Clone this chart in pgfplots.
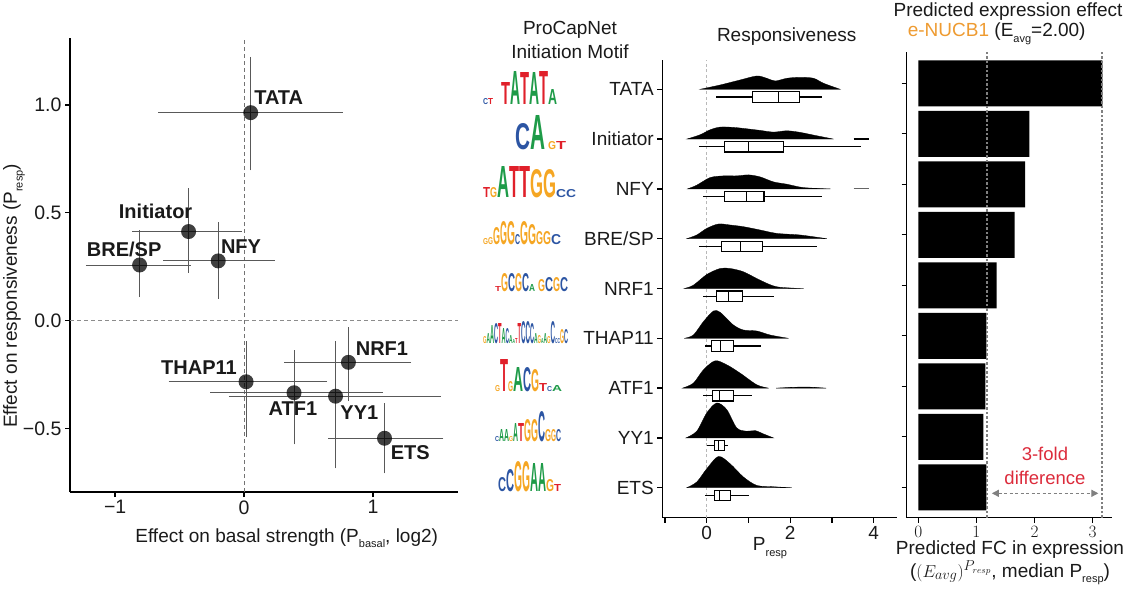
\documentclass[border=0pt]{standalone}
\usepackage{graphicx}
\usepackage{pgfplots}
\usepackage{pgfplotstable}
\pgfplotsset{compat=1.18}
\usepgfplotslibrary{statistics}
\usetikzlibrary{arrows.meta}
\usepackage{fontspec}
\setmainfont{Liberation Sans}

\definecolor{lgA}{HTML}{1E9B48}
\definecolor{lgC}{HTML}{2C55A3}
\definecolor{lgG}{HTML}{F5A623}
\definecolor{lgT}{HTML}{E0202A}
\definecolor{nucb}{HTML}{EE9B31}
\definecolor{foldred}{HTML}{DC2B3B}
\definecolor{txt}{HTML}{1A1A1A}

\newcommand{\Lt}[3]{\textcolor{lg#1}{\resizebox{#3pt}{#2pt}{\bfseries #1}}}
\newcommand{\Sp}[1]{\hspace*{#1pt}}
\newcommand{\sub}[1]{\raisebox{-0.55ex}{\fontsize{11}{12}\selectfont #1}}
\newcommand{\fs}[1]{\fontsize{#1}{#1}\selectfont}

\pgfplotstableread{
name x y xp xm yp ym
TATA 0.052 0.964 0.698 0.702 0.248 0.257
Initiator -0.43 0.413 0.397 0.42 0.19 0.181
BRE/SP -0.81 0.258 0.38 0.40 0.152 0.139
NFY -0.2 0.277 0.42 0.41 0.17 0.166
NRF1 0.81 -0.193 0.47 0.48 0.153 0.17
THAP11 0.016 -0.283 0.612 0.584 0.178 0.247
ATF1 0.388 -0.334 0.672 0.634 0.186 0.229
YY1 0.71 -0.35 0.80 0.81 0.245 0.324
ETS 1.09 -0.545 0.44 0.42 0.153 0.152
}\scatterdata

\pgfplotsset{
  panel/.style={
    scale only axis, anchor=south west, clip=false,
    axis lines=left, axis line style={-, line width=1.5pt, black},
    tick align=outside, major tick length=5pt,
    tick style={line width=1.3pt, black},
    ticklabel style={font=\fs{19}, text=txt},
  },
  dens/.style={fill=black, draw=black, line width=0.3pt, smooth, tension=0.5},
  bx/.style={draw=black, fill=white, line width=1.2pt, solid},
}

\begin{document}
\begin{tikzpicture}[x=1pt,y=1pt]
\path[use as bounding box] (0,0) rectangle (1123,590);

% ---------------- left scatter panel ----------------
\begin{axis}[panel,
  at={(70pt,98pt)}, width=388pt, height=454pt,
  xmin=-1.35, xmax=1.66, ymin=-0.794, ymax=1.31,
  xtick={-1,0,1}, xticklabels={−1,0,1},
  ytick={-0.5,0,0.5,1}, yticklabels={−0.5,0.0,0.5,1.0},
  ticklabel style={font=\fs{19.5}},
]
\addplot[black!55, line width=0.9pt, dash pattern=on 4pt off 3pt] coordinates {(0,-0.794) (0,1.31)};
\addplot[black!45, line width=0.9pt, dash pattern=on 4pt off 3pt] coordinates {(-1.35,0) (1.66,0)};
\addplot[only marks, mark=*, mark size=7.5pt,
  mark options={fill=black, fill opacity=0.75, draw opacity=0},
  error bars/.cd, x dir=both, x explicit, y dir=both, y explicit,
  error mark=-,
  error bar style={line width=0.9pt, black!65, draw opacity=1},
  error mark options={line width=0.9pt, black!65, mark size=2.2pt, draw opacity=1, fill opacity=1}]
  table[x=x, y=y, x error plus=xp, x error minus=xm, y error plus=yp, y error minus=ym] {\scatterdata};
\begin{scope}[every node/.style={font=\bfseries\fs{20}, text=txt, inner sep=0pt}]
\node[anchor=west] at (axis cs:0.078,1.032) {TATA};
\node at (axis cs:-0.686,0.505) {Initiator};
\node at (axis cs:-0.93,0.328) {BRE/SP};
\node at (axis cs:-0.023,0.342) {NFY};
\node at (axis cs:1.07,-0.131) {NRF1};
\node at (axis cs:-0.349,-0.219) {THAP11};
\node at (axis cs:0.38,-0.409) {ATF1};
\node at (axis cs:0.895,-0.428) {YY1};
\node at (axis cs:1.29,-0.612) {ETS};
\end{scope}
\end{axis}
\node[rotate=90, font=\fs{19}, text=txt] at (14,294) {Effect on responsiveness (P\sub{resp})};
\node[font=\fs{19}, text=txt] at (286.7,52) {Effect on basal strength (P\sub{basal}, log2)};

% ---------------- motif logos ----------------
\begin{scope}[every node/.style={anchor=base west, inner sep=0pt}]
\node at (483,485) {\Lt{C}{6}{5}\Lt{T}{6}{5}\Sp{8}\Lt{T}{22}{9}\Lt{A}{33}{10}\Lt{T}{32}{9}\Lt{A}{32}{10}\Lt{T}{33}{9}\Lt{A}{15}{9}};
\node at (483,440.7) {\Sp{32}\Lt{C}{26}{15}\Lt{A}{34}{15}\Sp{3}\Lt{G}{8}{8}\Lt{T}{8}{10}};
\node at (483,392.7) {\Lt{T}{10}{7}\Lt{G}{10}{7}\Lt{A}{31}{12}\Lt{T}{31}{10}\Lt{T}{31}{11}\Lt{G}{28}{13}\Lt{G}{28}{13}\Lt{C}{8}{10}\Lt{C}{8}{10}};
\node at (483,346) {\Lt{G}{6}{5}\Lt{G}{7}{5}\Lt{G}{17}{7}\Lt{G}{23}{7}\Lt{G}{23}{8}\Lt{C}{10}{5}\Lt{G}{23}{8}\Lt{G}{20}{8}\Lt{G}{13}{7}\Lt{G}{13}{8}\Lt{C}{10}{10}};
\node at (483,299) {\Sp{12}\Lt{T}{5}{6}\Lt{G}{18}{7}\Lt{C}{18}{7}\Lt{G}{18}{7}\Lt{C}{18}{7}\Lt{A}{7}{6}\Sp{3}\Lt{G}{12}{7}\Lt{C}{14}{8}\Lt{G}{14}{7}\Lt{C}{14}{8}};
\node at (483,246.7) {\Lt{G}{7}{3.5}\Lt{A}{10}{3.5}\Lt{A}{18}{4}\Lt{C}{20}{4}\Lt{T}{20}{3.5}\Lt{A}{15}{4}\Lt{C}{15}{3.5}\Lt{A}{8}{3.5}\Lt{A}{4}{2.5}\Lt{T}{5}{2.5}\Lt{T}{20}{3.5}\Lt{C}{22}{4.5}\Lt{C}{22}{4.5}\Lt{C}{20}{4}\Lt{A}{10}{3.5}\Lt{G}{8}{3.5}\Lt{A}{5}{2.5}\Lt{A}{10}{3.5}\Lt{G}{7}{3.5}\Lt{C}{22}{4.5}\Lt{C}{5}{2.5}\Lt{C}{5}{2.5}\Lt{G}{14}{4}\Lt{C}{14}{4}};
\node at (483,198.3) {\Sp{12}\Lt{G}{6}{5}\Lt{T}{32}{8}\Lt{G}{10}{5}\Lt{A}{24}{10}\Lt{C}{24}{8}\Lt{G}{22}{8}\Lt{T}{8}{8}\Lt{C}{5}{5}\Lt{A}{6}{10}};
\node at (483,148.3) {\Sp{12}\Lt{C}{5}{4}\Lt{A}{12}{5}\Lt{A}{12}{5}\Lt{G}{5}{4}\Lt{A}{18}{5}\Lt{T}{18}{6}\Lt{G}{22}{7}\Lt{G}{22}{7}\Lt{C}{30}{7}\Lt{G}{12}{6}\Lt{G}{12}{5}\Lt{C}{12}{5}};
\node at (483,98.3) {\Sp{15}\Lt{C}{14}{8}\Lt{C}{22}{8}\Lt{G}{30}{8}\Lt{G}{30}{8}\Lt{A}{28}{8}\Lt{A}{28}{8}\Lt{G}{12}{8}\Lt{T}{7}{7}};
\end{scope}
\node[font=\fs{19}, text=txt] at (570,560) {ProCapNet};
\node[font=\fs{19}, text=txt] at (570,538.3) {Initiation Motif};

% ---------------- middle responsiveness panel ----------------
\begin{axis}[panel,
  at={(662.3pt,72.3pt)}, width=234.7pt, height=457.7pt,
  xmin=-1.065, xmax=4.56, ymin=0.398, ymax=9.588,
  xtick={-1,0,1,2,3,4}, xticklabels={,0,,2,,4},
  ytick={1,2,3,4,5,6,7,8,9},
  yticklabels={ETS,YY1,ATF1,THAP11,NRF1,BRE/SP,NFY,Initiator,TATA},
  boxplot/draw direction=x,
]
\addplot[black!28, line width=1.5pt, dash pattern=on 3pt off 2.5pt] coordinates {(0,0.398) (0,9.588)};
% densities (x, height in px)
\addplot[dens] table[y expr=9+\thisrow{h}/49.8] {
x h
-0.16 0
0.32 4.3
0.8 9.3
1.2 13.3
1.44 11
1.64 8.3
1.92 11
2.24 12
2.56 11
2.8 6
3.2 0
} -- cycle;
\addplot[dens] table[y expr=8+\thisrow{h}/49.8] {
x h
-0.48 0
-0.16 4.3
0.08 9.3
0.32 12
0.64 11.7
0.96 10.3
1.28 8.7
1.6 7
1.92 8.3
2.24 6.7
2.64 3.3
3.04 0
} -- cycle;
\addplot[black, line width=1.2pt] coordinates {(3.52,8) (3.88,8)};
\addplot[dens] table[y expr=7+\thisrow{h}/49.8] {
x h
-0.46 0
-0.24 3.7
0.08 11.3
0.4 13
0.72 13
1.0 14
1.28 12
1.6 7
1.92 4.7
2.32 1.3
2.96 0
} -- cycle;
\addplot[black!60, line width=1.2pt] coordinates {(3.52,7) (3.88,7)};
\addplot[dens] table[y expr=6+\thisrow{h}/49.8] {
x h
-0.48 0
-0.24 3.7
0 10.3
0.28 14.7
0.56 13.7
0.88 12
1.28 8.7
1.68 5.3
2.24 3.7
2.88 0
} -- cycle;
\addplot[dens] table[y expr=5+\thisrow{h}/49.8] {
x h
-0.54 0
-0.32 3.3
0 14
0.32 20
0.56 20
0.88 16.7
1.28 8.3
1.68 1.7
2.32 0
} -- cycle;
\addplot[dens] table[y expr=4+\thisrow{h}/49.8] {
x h
-0.54 0
-0.32 3.3
-0.08 16.7
0.16 27.3
0.32 26
0.64 13.3
0.88 8.3
1.2 7.3
1.52 3.3
1.96 0
} -- cycle;
\addplot[dens] table[y expr=3+\thisrow{h}/49.8] {
x h
-0.58 0
-0.32 5
-0.08 18.3
0.2 27.3
0.48 23.3
0.8 15
1.2 3.3
1.48 0
} -- cycle;
\addplot[dens] table[y expr=3+\thisrow{h}/49.8] {
x h
1.66 0
2.0 0.7
2.4 1.1
2.86 0
} -- cycle;
\addplot[dens] table[y expr=2+\thisrow{h}/49.8] {
x h
-0.5 0
-0.24 6.7
0 25
0.24 35
0.48 28.3
0.72 10
0.96 6.7
1.16 7.3
1.36 4
1.6 0
} -- cycle;
\addplot[dens] table[y expr=1+\thisrow{h}/49.8] {
x h
-0.48 0
-0.24 5.7
0 19
0.28 31.3
0.56 24
0.88 10.7
1.2 2.3
1.6 1.0
2.04 0
} -- cycle;
% box plots
\pgfplotsset{boxplot/box extend=0.21, boxplot/whisker extend=0}
\addplot[bx, boxplot prepared={draw position=8.845, lower whisker=0.22, lower quartile=1.09, median=1.72, upper quartile=2.22, upper whisker=2.77}] coordinates {};
\addplot[bx, boxplot prepared={draw position=7.845, lower whisker=-0.19, lower quartile=0.43, median=1.01, upper quartile=1.84, upper whisker=3.69}] coordinates {};
\addplot[bx, boxplot prepared={draw position=6.845, lower whisker=-0.1, lower quartile=0.42, median=0.96, upper quartile=1.37, upper whisker=2.77}] coordinates {};
\addplot[bx, boxplot prepared={draw position=5.845, lower whisker=-0.18, lower quartile=0.36, median=0.8, upper quartile=1.33, upper whisker=2.64}] coordinates {};
\addplot[bx, boxplot prepared={draw position=4.845, lower whisker=-0.1, lower quartile=0.24, median=0.53, upper quartile=0.85, upper whisker=1.62}] coordinates {};
\addplot[bx, boxplot prepared={draw position=3.845, lower whisker=-0.04, lower quartile=0.11, median=0.32, upper quartile=0.64, upper whisker=1.3}] coordinates {};
\addplot[bx, boxplot prepared={draw position=2.845, lower whisker=-0.1, lower quartile=0.13, median=0.3, upper quartile=0.65, upper whisker=1.08}] coordinates {};
\addplot[bx, boxplot prepared={draw position=1.845, lower whisker=0, lower quartile=0.18, median=0.28, upper quartile=0.43, upper whisker=0.52}] coordinates {};
\addplot[bx, boxplot prepared={draw position=0.845, lower whisker=-0.04, lower quartile=0.18, median=0.3, upper quartile=0.57, upper whisker=1.01}] coordinates {};
\end{axis}
\node[font=\fs{19}, text=txt] at (786.7,553.3) {Responsiveness};
\node[font=\fs{19}, text=txt] at (770,42) {P\sub{resp}};

% ---------------- right bar panel ----------------
\begin{axis}[panel,
  at={(906.7pt,72.3pt)}, width=205pt, height=466pt,
  xmin=-0.2, xmax=3.33, ymin=0.398, ymax=9.626,
  xtick={0,1,2,3}, ytick={1,2,3,4,5,6,7,8,9}, yticklabels={},
  ticklabel style={font=\fs{18.5}},
]
\addplot[xbar, fill=black, draw=none, bar width=0.91] coordinates {
(1.17,1) (1.12,2) (1.155,3) (1.17,4) (1.35,5) (1.66,6) (1.84,7) (1.91,8) (3.17,9)};
\addplot[black!50, line width=2pt, dash pattern=on 2.5pt off 2pt] coordinates {(1.18,0.398) (1.18,9.626)};
\addplot[black!50, line width=2pt, dash pattern=on 2.5pt off 2pt] coordinates {(3.17,0.398) (3.17,9.626)};
\draw[black!50, line width=1.2pt, dash pattern=on 3pt off 2.5pt, {Triangle[length=7pt,width=7pt]}-{Triangle[length=7pt,width=7pt]}] (axis cs:1.266,0.881) -- (axis cs:3.10,0.881);
\node[text=foldred, font=\fs{18.5}] at (axis cs:2.18,1.653) {3-fold};
\node[text=foldred, font=\fs{18.5}] at (axis cs:2.18,1.19) {difference};
\end{axis}
\node[font=\fs{19}, text=txt] at (1008,578) {Predicted expression effect};
\node[font=\fs{19}, text=txt] at (996.7,556) {\textcolor{nucb}{e-NUCB1} (E\sub{avg}=2.00)};
\node[font=\fs{19}, text=txt] at (1010,40) {Predicted FC in expression};
\node[font=\fs{19}, text=txt] at (1010,17) {($(E_{avg})^{P_{resp}}$, median P\sub{resp})};
\end{tikzpicture}
\end{document}
